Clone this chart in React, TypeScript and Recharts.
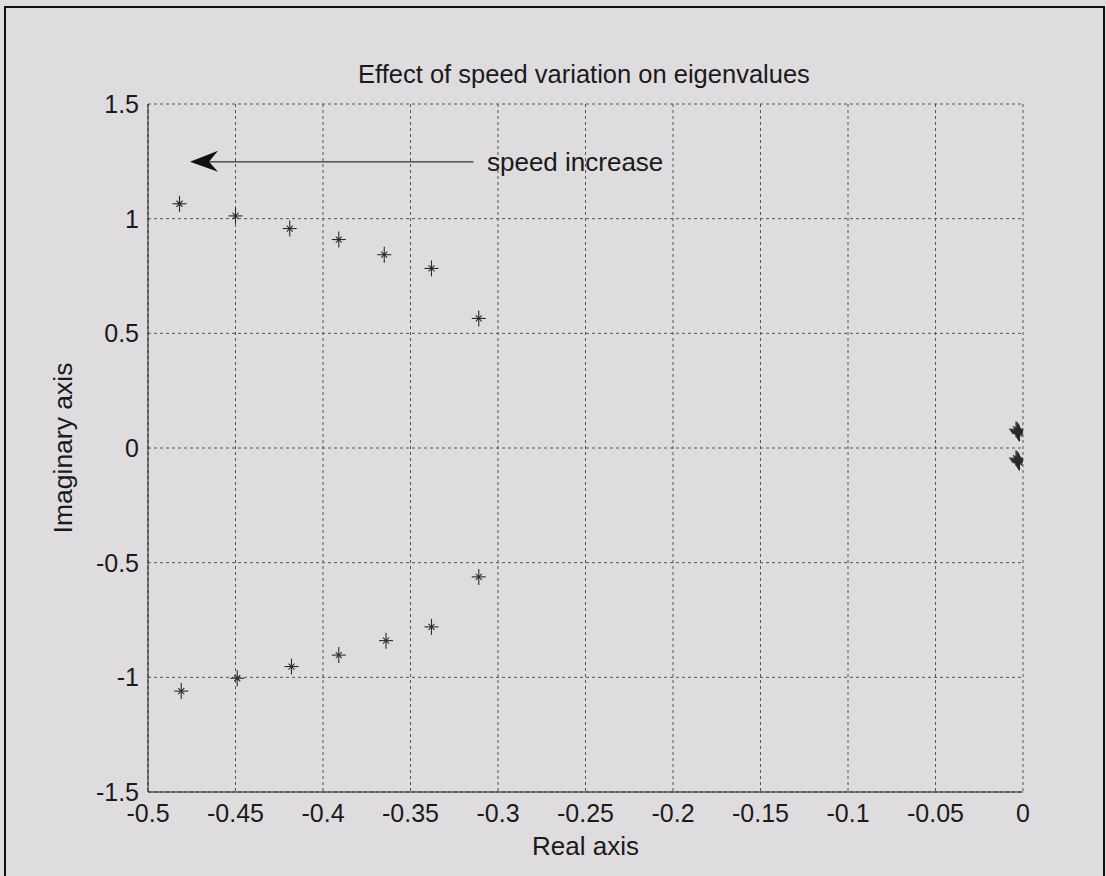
import React from 'react'
import { ScatterChart, Scatter, XAxis, YAxis, CartesianGrid, ReferenceLine, ReferenceDot, Label } from 'recharts'

// eigenvalues
const upperReal = [-0.482, -0.450, -0.419, -0.391, -0.365, -0.338, -0.311]
const upperImag = [1.065, 1.012, 0.957, 0.909, 0.843, 0.783, 0.565]
const lowerReal = [-0.481, -0.449, -0.418, -0.391, -0.364, -0.338, -0.311]
const lowerImag = [-1.060, -1.004, -0.953, -0.903, -0.840, -0.780, -0.562]
const nearZeroReal = [-0.004, -0.0035, -0.003, -0.003, -0.0025, -0.0025, -0.002]
const nearZeroImagUp = [0.082, 0.078, 0.075, 0.072, 0.069, 0.066, 0.063]
const nearZeroImagDown = [-0.044, -0.048, -0.051, -0.054, -0.057, -0.060, -0.064]

const xTicks = [-0.5, -0.45, -0.4, -0.35, -0.3, -0.25, -0.2, -0.15, -0.1, -0.05, 0]
const yTicks = [-1.5, -1, -0.5, 0, 0.5, 1, 1.5]

const arrowTip = { x: -0.476, y: 1.248 }
const arrowTailX = -0.314
const arrowText = { x: -0.3063, y: 1.248, text: 'speed increase' }

const toPoints = (xs: number[], ys: number[]) => xs.map((x, i) => ({ x, y: ys[i] }))

const points = [
  ...toPoints(upperReal, upperImag),
  ...toPoints(lowerReal, lowerImag),
  ...toPoints(nearZeroReal, nearZeroImagUp),
  ...toPoints(nearZeroReal, nearZeroImagDown),
]

const ink = '#1a1a1a'
const font = '"Liberation Sans", Arial, sans-serif'

const StarMark = (props: any) => {
  const { cx, cy } = props
  if (cx == null || cy == null) return null
  return (
    <g stroke="#2a2a2a" strokeWidth={1.1}>
      <line x1={cx - 7} y1={cy} x2={cx + 7} y2={cy} />
      <line x1={cx} y1={cy - 8} x2={cx} y2={cy + 8} />
      <line x1={cx - 3} y1={cy - 3} x2={cx + 3} y2={cy + 3} />
      <line x1={cx - 3} y1={cy + 3} x2={cx + 3} y2={cy - 3} />
    </g>
  )
}

const ArrowHead = (props: any) => {
  const { cx, cy } = props
  return <path d={`M${cx},${cy} L${cx + 28},${cy - 11} L${cx + 19},${cy} L${cx + 28},${cy + 10} Z`} fill="#111" />
}

const ArrowText = (props: any) => {
  const { cx, cy } = props
  return (
    <text x={cx} y={cy} dy="0.36em" fontSize={26} fill={ink} fontFamily={font}>
      {arrowText.text}
    </text>
  )
}

const App: React.FC = () => {
  return (
    <div style={{ position: 'absolute', left: 0, top: 0, width: 1106, height: 876, background: '#dfdcdf', fontFamily: font }}>
      <ScatterChart width={1106} height={876} margin={{ top: 104, right: 83, bottom: 54, left: 48 }}>
        <CartesianGrid stroke="#555" strokeDasharray="3 3" strokeWidth={1} />
        <XAxis
          type="number"
          dataKey="x"
          domain={[-0.5, 0]}
          ticks={xTicks}
          height={30}
          stroke={ink}
          tickLine={false}
          tickSize={-8}
          tickMargin={20}
          tick={{ fontSize: 25, fill: ink, fontFamily: font }}
          allowDataOverflow
        >
          <Label value="Real axis" position="bottom" offset={15} style={{ fontSize: 26, fill: ink, fontFamily: font }} />
        </XAxis>
        <YAxis
          type="number"
          dataKey="y"
          domain={[-1.5, 1.5]}
          ticks={yTicks}
          width={100}
          stroke={ink}
          tickLine={false}
          tickSize={-8}
          tickMargin={17}
          tick={{ fontSize: 25, fill: ink, fontFamily: font }}
          allowDataOverflow
        >
          <Label
            value="Imaginary axis"
            angle={-90}
            position="insideLeft"
            offset={15}
            style={{ fontSize: 26.5, fill: ink, fontFamily: font, textAnchor: 'middle' }}
          />
        </YAxis>
        <ReferenceLine
          segment={[{ x: arrowTip.x + 0.01, y: arrowTip.y }, { x: arrowTailX, y: arrowTip.y }]}
          stroke="#333"
          strokeWidth={1.2}
        />
        <ReferenceDot x={arrowTip.x} y={arrowTip.y} shape={ArrowHead} />
        <ReferenceDot x={arrowText.x} y={arrowText.y} shape={ArrowText} />
        <Scatter data={points} shape={StarMark} isAnimationActive={false} />
      </ScatterChart>
      <svg width={1106} height={876} style={{ position: 'absolute', left: 0, top: 0, pointerEvents: 'none' }}>
        <polyline points="5,876 5,7 1104,7 1104,876" fill="none" stroke="#111" strokeWidth={2} />
        <text x={584} y={83} textAnchor="middle" fontSize={25.5} fill={ink} fontFamily={font}>
          Effect of speed variation on eigenvalues
        </text>
      </svg>
    </div>
  )
}

export default App
